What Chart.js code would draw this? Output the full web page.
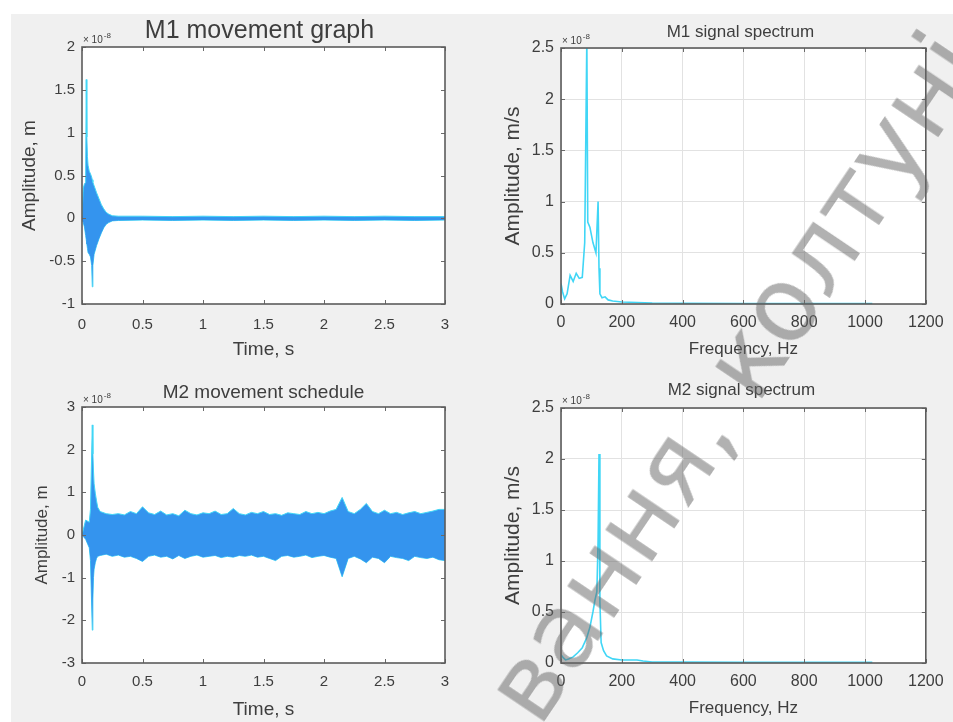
<!DOCTYPE html>
<html>
<head>
<meta charset="utf-8">
<script src="https://cdn.jsdelivr.net/npm/chart.js@4.4.1/dist/chart.umd.min.js"></script>
<style>
  html, body { margin: 0; padding: 0; background: #fff; }
  #page { position: relative; width: 953px; height: 722px; overflow: hidden; background: #fff; }
  #bg { position: absolute; left: 11px; top: 14px; right: 0; bottom: 0; background: #f0f0f0; }
  .box { position: absolute; }
  .box canvas { display: block; }
  .mark {
    position: absolute; left: 466px; top: 680px;
    transform-origin: 0 0; transform: rotate(-56deg);
    font: 104px "DejaVu Sans"; line-height: 1; white-space: nowrap;
    color: rgba(100, 100, 100, 0.5); pointer-events: none;
  }
</style>
</head>
<body>
<div id="page">
  <div id="bg"></div>
  <div class="box" style="left:11px;top:14px"><canvas id="m1" width="469" height="348"></canvas></div>
  <div class="box" style="left:480px;top:14px"><canvas id="s1" width="473" height="348"></canvas></div>
  <div class="box" style="left:11px;top:362px"><canvas id="m2" width="469" height="360"></canvas></div>
  <div class="box" style="left:480px;top:362px"><canvas id="s2" width="473" height="360"></canvas></div>
  <div class="mark">вання, колтуні</div>
</div>
<script>
// M1 displacement, envelope of the oscillation (x1e-8 m)
const m1Time  = [0, 0.01, 0.02, 0.03, 0.035, 0.04, 0.045, 0.05, 0.06, 0.07, 0.08, 0.085, 0.09, 0.1, 0.12, 0.14, 0.16, 0.18, 0.2, 0.22, 0.25, 0.3, 0.5, 0.75, 1, 1.25, 1.5, 1.75, 2, 2.25, 2.5, 2.75, 3];
const m1Upper = [0.02, 0.35, 0.4, 0.42, 1.62, 0.95, 0.72, 0.62, 0.55, 0.52, 0.48, 0.45, 0.42, 0.38, 0.3, 0.23, 0.16, 0.11, 0.07, 0.05, 0.03, 0.025, 0.025, 0.02, 0.025, 0.02, 0.025, 0.02, 0.025, 0.02, 0.025, 0.02, 0.02];
const m1Lower = [-0.02, -0.05, -0.1, -0.2, -0.25, -0.3, -0.35, -0.4, -0.42, -0.45, -0.55, -0.8, -0.55, -0.42, -0.32, -0.24, -0.17, -0.11, -0.07, -0.05, -0.03, -0.025, -0.02, -0.025, -0.02, -0.025, -0.02, -0.025, -0.02, -0.025, -0.02, -0.025, -0.02];

// M2 displacement envelope (x1e-8 m)
const m2Time = [0, 0.03, 0.06, 0.07, 0.085, 0.09, 0.095, 0.1, 0.11, 0.12, 0.13,
  0.15, 0.2, 0.25, 0.3, 0.35, 0.4, 0.45, 0.5, 0.55, 0.6, 0.65, 0.7, 0.75, 0.8, 0.85, 0.9, 0.95,
  1, 1.05, 1.1, 1.15, 1.2, 1.25, 1.3, 1.35, 1.4, 1.45, 1.5, 1.55, 1.6, 1.65, 1.7, 1.75, 1.8, 1.85, 1.9, 1.95,
  2, 2.05, 2.1, 2.15, 2.2, 2.25, 2.3, 2.35, 2.4, 2.45, 2.5, 2.55, 2.6, 2.65, 2.7, 2.75, 2.8, 2.85, 2.9, 2.95, 3];
const m2Upper = [0, 0.35, 0.3, 0.6, 2.58, 1.9, 1.5, 1.2, 0.98, 0.8, 0.65,
  0.55, 0.5, 0.48, 0.5, 0.47, 0.55, 0.5, 0.66, 0.52, 0.48, 0.56, 0.47, 0.5, 0.45, 0.58, 0.5, 0.47,
  0.52, 0.5, 0.56, 0.48, 0.5, 0.62, 0.5, 0.47, 0.53, 0.5, 0.55, 0.48, 0.5, 0.46, 0.52, 0.5, 0.48, 0.55, 0.5, 0.53,
  0.5, 0.56, 0.6, 0.88, 0.55, 0.5, 0.6, 0.74, 0.55, 0.5, 0.58, 0.5, 0.53, 0.48, 0.52, 0.55, 0.5, 0.53, 0.56, 0.6, 0.6];
const m2Lower = [0, -0.1, -0.3, -0.6, -2.23, -1.5, -1.0, -0.8, -0.65, -0.55, -0.5,
  -0.48, -0.45, -0.5, -0.47, -0.52, -0.5, -0.55, -0.62, -0.5, -0.47, -0.52, -0.5, -0.56, -0.48, -0.55, -0.5, -0.47,
  -0.52, -0.5, -0.48, -0.53, -0.5, -0.52, -0.48, -0.5, -0.47, -0.52, -0.5, -0.55, -0.6, -0.5, -0.48, -0.52, -0.5, -0.47, -0.53, -0.5,
  -0.48, -0.52, -0.55, -0.98, -0.55, -0.5, -0.56, -0.65, -0.52, -0.55, -0.65, -0.5, -0.53, -0.55, -0.6, -0.5, -0.53, -0.55, -0.52, -0.58, -0.6];

// amplitude spectra (x1e-8 m/s)
const s1Freq = [0, 5, 12, 20, 30, 40, 50, 60, 70, 78, 85, 88, 95, 105, 115, 122, 125, 128, 135, 145, 155, 170, 200, 250, 300, 400, 600, 800, 1024];
const s1Amp  = [0.2, 0.12, 0.05, 0.1, 0.28, 0.22, 0.3, 0.25, 0.26, 0.6, 2.6, 0.8, 0.75, 0.6, 0.5, 1.0, 0.35, 0.1, 0.06, 0.07, 0.04, 0.03, 0.02, 0.015, 0.01, 0.008, 0.005, 0.005, 0.005];
const s2Freq = [0, 8, 15, 25, 40, 55, 70, 85, 95, 105, 112, 118, 122, 125, 128, 132, 140, 150, 170, 200, 250, 270, 300, 400, 600, 800, 1024];
const s2Amp  = [0.08, 0.05, 0.03, 0.04, 0.06, 0.1, 0.15, 0.25, 0.35, 0.5, 0.62, 0.7, 1.2, 2.05, 0.6, 0.2, 0.12, 0.07, 0.04, 0.03, 0.03, 0.02, 0.01, 0.01, 0.008, 0.008, 0.008];

const timeTicks = { min: 0, max: 3, step: 0.5 };
const freqTicks = { min: 0, max: 1200, step: 200 };

const BLUE = 'rgb(52,148,238)';
const CYAN = 'rgb(64,214,246)';
const INK = '#3e3e3e';
const FONT = '"Liberation Sans", Arial, sans-serif';

const pts = (xs, ys) => xs.map((x, i) => ({ x, y: ys[i] }));

// white plot area, inward ticks on all four sides, box, title and the x10^-8 note
const axesBox = {
  id: 'axesBox',
  beforeDraw(chart) {
    const { ctx, chartArea: a } = chart;
    ctx.save();
    ctx.fillStyle = '#fff';
    ctx.fillRect(a.left, a.top, a.right - a.left, a.bottom - a.top);
    ctx.restore();
  },
  afterDatasetsDraw(chart, args, o) {
    const { ctx, chartArea: a, scales: { x, y } } = chart;
    ctx.save();
    ctx.strokeStyle = '#6a6a6a';
    ctx.lineWidth = 1;
    ctx.beginPath();
    x.ticks.forEach(t => {
      const px = Math.round(x.getPixelForValue(t.value)) + 0.5;
      ctx.moveTo(px, a.bottom); ctx.lineTo(px, a.bottom - 4);
      ctx.moveTo(px, a.top); ctx.lineTo(px, a.top + 4);
    });
    y.ticks.forEach(t => {
      const py = Math.round(y.getPixelForValue(t.value)) + 0.5;
      ctx.moveTo(a.left, py); ctx.lineTo(a.left + 4, py);
      ctx.moveTo(a.right, py); ctx.lineTo(a.right - 4, py);
    });
    ctx.stroke();
    ctx.strokeStyle = '#5c5c5c';
    ctx.lineWidth = 1.6;
    ctx.strokeRect(a.left, a.top, a.right - a.left, a.bottom - a.top);

    ctx.fillStyle = INK;
    ctx.textAlign = 'center';
    ctx.textBaseline = 'middle';
    ctx.font = o.titleSize + 'px ' + FONT;
    ctx.fillText(o.title, (a.left + a.right) / 2 + (o.titleDx || 0), o.titleY);

    ctx.textAlign = 'left';
    ctx.textBaseline = 'alphabetic';
    ctx.font = '10px ' + FONT;
    ctx.fillText('× 10', a.left + 1, a.top - 4);
    const w = ctx.measureText('× 10').width;
    ctx.font = '8px ' + FONT;
    ctx.fillText('-8', a.left + 2 + w, a.top - 9);
    ctx.restore();
  }
};

function panel(id, p) {
  const box = p.box, area = p.area;
  const lhY = p.ylabelSize * 1.2, lhX = p.xlabelSize * 1.2;
  const axis = (r, size, grid) => ({
    type: 'linear', min: r.min, max: r.max,
    grid: { display: grid, color: '#e2e2e2', drawTicks: false },
    border: { display: false },
    ticks: { stepSize: r.step, color: INK, font: { family: FONT, size: size }, callback: v => String(v) }
  });
  const xs = axis(p.xr, p.tickSize, p.grid);
  xs.ticks.padding = p.tickY - area.b - p.tickSize * 0.6;
  xs.ticks.maxRotation = 0;
  xs.title = { display: true, text: p.xlabel, color: INK, font: { family: FONT, size: p.xlabelSize },
    padding: { top: 0, bottom: (box.y + box.h) - p.xlabelY - lhX / 2 } };
  xs.afterFit = s => { s.height = box.y + box.h - area.b; };
  const ys = axis(p.yr, p.tickSize, p.grid);
  ys.ticks.padding = 7;
  ys.title = { display: true, text: p.ylabel, color: INK, font: { family: FONT, size: p.ylabelSize },
    padding: { top: p.ylabelX - box.x - lhY / 2, bottom: 0 } };
  ys.afterFit = s => { s.width = area.l - box.x; };

  return new Chart(document.getElementById(id), {
    type: 'line',
    data: { datasets: p.datasets },
    options: {
      responsive: false,
      animation: false,
      layout: { padding: { left: 0, bottom: 0, top: area.t - box.y, right: box.x + box.w - area.r } },
      elements: { point: { radius: 0 }, line: { tension: 0 } },
      scales: { x: xs, y: ys },
      plugins: {
        legend: { display: false },
        tooltip: { enabled: false },
        axesBox: { title: p.title, titleSize: p.titleSize, titleY: p.titleY - box.y, titleDx: p.titleDx }
      }
    },
    plugins: [axesBox]
  });
}

const envelope = (xs, up, low) => [
  { data: pts(xs, up), borderColor: CYAN, borderWidth: 1, backgroundColor: BLUE, fill: '+1' },
  { data: pts(xs, low), borderColor: CYAN, borderWidth: 1, fill: false }
];
const spectrum = (xs, ys) => [
  { data: pts(xs, ys), borderColor: CYAN, borderWidth: 1.6, fill: false }
];

panel('m1', {
  box: { x: 11, y: 14, w: 469, h: 348 }, area: { l: 82, t: 47, r: 445, b: 304 },
  xr: timeTicks, yr: { min: -1, max: 2, step: 0.5 }, grid: false,
  title: 'M1 movement graph', titleSize: 25, titleY: 31, titleDx: -4,
  xlabel: 'Time, s', xlabelSize: 19, xlabelY: 350,
  ylabel: 'Amplitude, m', ylabelSize: 19, ylabelX: 30,
  tickSize: 15, tickY: 325,
  datasets: envelope(m1Time, m1Upper, m1Lower)
});

panel('s1', {
  box: { x: 480, y: 14, w: 473, h: 348 }, area: { l: 561, t: 48, r: 929, b: 304 },
  xr: freqTicks, yr: { min: 0, max: 2.5, step: 0.5 }, grid: true,
  title: 'M1 signal spectrum', titleSize: 17, titleY: 32, titleDx: -3,
  xlabel: 'Frequency, Hz', xlabelSize: 17, xlabelY: 349,
  ylabel: 'Amplitude, m/s', ylabelSize: 21, ylabelX: 513,
  tickSize: 16, tickY: 323,
  datasets: spectrum(s1Freq, s1Amp)
});

panel('m2', {
  box: { x: 11, y: 362, w: 469, h: 360 }, area: { l: 82, t: 407, r: 445, b: 663 },
  xr: timeTicks, yr: { min: -3, max: 3, step: 1 }, grid: false,
  title: 'M2 movement schedule', titleSize: 19, titleY: 393, titleDx: 0,
  xlabel: 'Time, s', xlabelSize: 19, xlabelY: 710,
  ylabel: 'Amplitude, m', ylabelSize: 17, ylabelX: 42,
  tickSize: 15, tickY: 682,
  datasets: envelope(m2Time, m2Upper, m2Lower)
});

panel('s2', {
  box: { x: 480, y: 362, w: 473, h: 360 }, area: { l: 561, t: 408, r: 929, b: 663 },
  xr: freqTicks, yr: { min: 0, max: 2.5, step: 0.5 }, grid: true,
  title: 'M2 signal spectrum', titleSize: 17, titleY: 390, titleDx: -2,
  xlabel: 'Frequency, Hz', xlabelSize: 17, xlabelY: 708,
  ylabel: 'Amplitude, m/s', ylabelSize: 21, ylabelX: 513,
  tickSize: 16, tickY: 682,
  datasets: spectrum(s2Freq, s2Amp)
});
</script>
</body>
</html>
